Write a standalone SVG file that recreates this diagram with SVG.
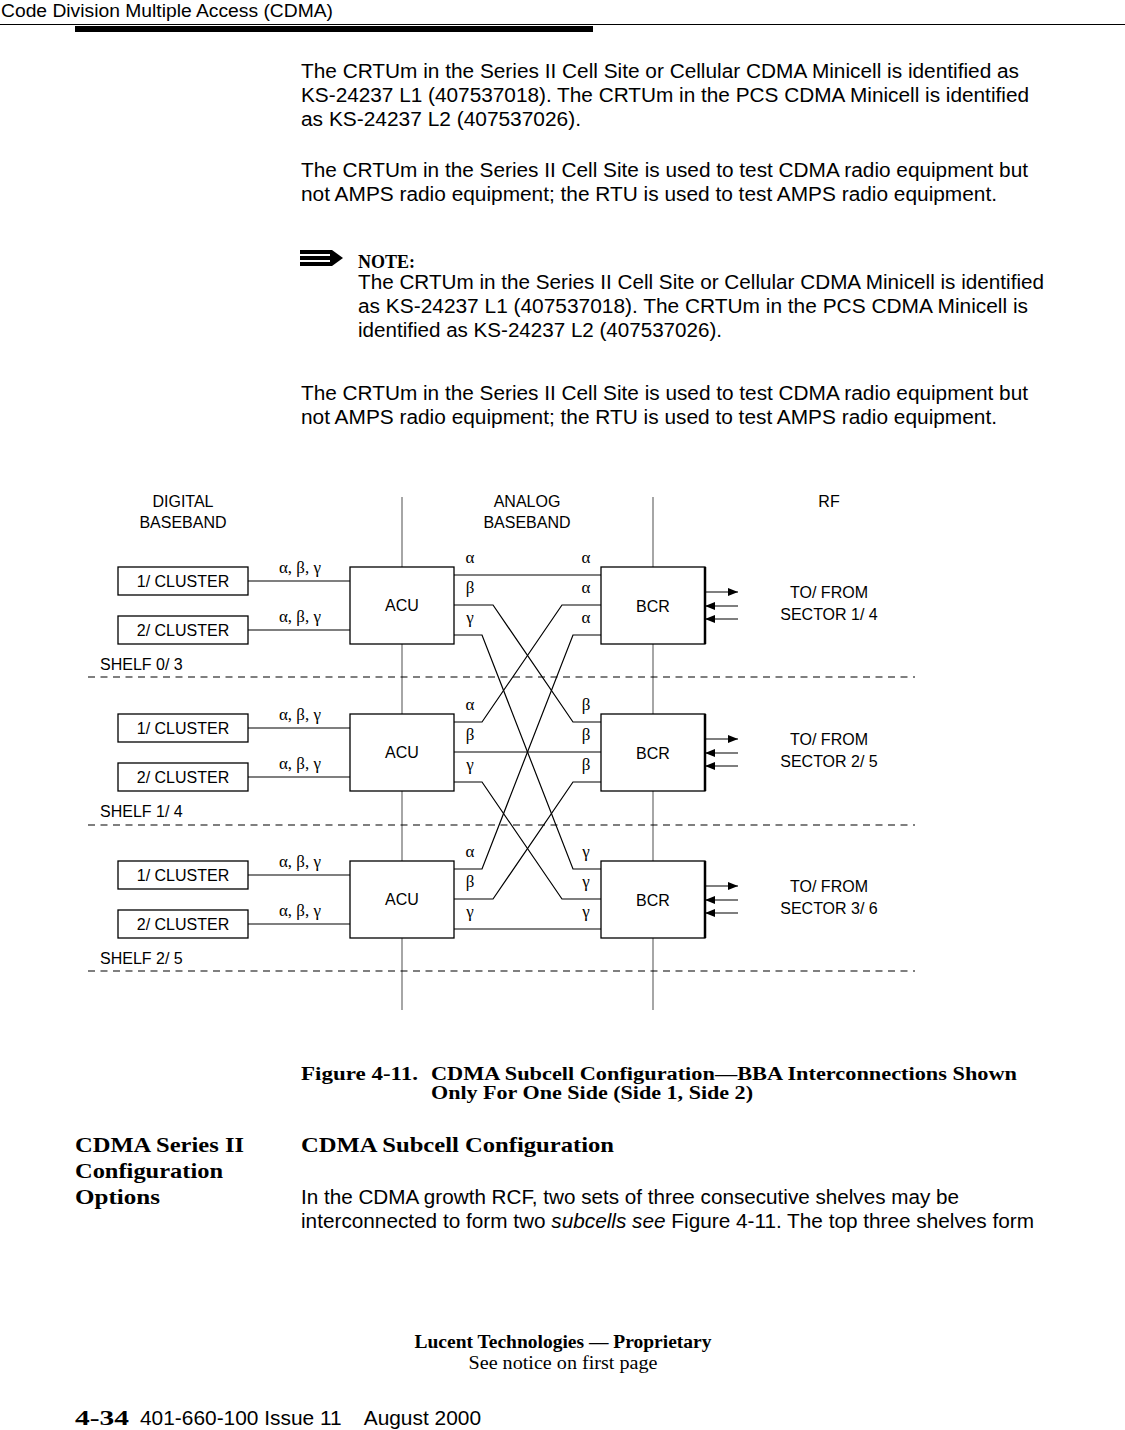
<svg xmlns="http://www.w3.org/2000/svg" width="1125" height="1430" viewBox="0 0 1125 1430">
<defs>
<style>
.sans{font-family:"Liberation Sans",Arial,sans-serif;fill:#000}
.body{font-size:20px}
.lbl{font-size:16px}
.grk{font-family:"Liberation Serif","Times New Roman",serif;font-size:17px;fill:#000}
.serif{font-family:"Liberation Serif","Times New Roman",serif;fill:#000}
.b{font-weight:bold}
.box{fill:#fff;stroke:#000;stroke-width:1.3}
.wire{fill:none;stroke:#000;stroke-width:1.2}
.dash{stroke:#000;stroke-width:1.2;stroke-dasharray:7 5.5}
.div{stroke:#888;stroke-width:1.5}
.mid{text-anchor:middle}
</style>
<marker id="ah" markerWidth="10" markerHeight="8" refX="10" refY="4" orient="auto" markerUnits="userSpaceOnUse">
<path d="M0,0 L10,4 L0,8 Z" fill="#000"/>
</marker>
</defs>
<rect width="1125" height="1430" fill="#fff"/>

<!-- header -->
<text x="1" y="17" class="sans" font-size="18" textLength="332" lengthAdjust="spacingAndGlyphs">Code Division Multiple Access (CDMA)</text>
<line x1="0" y1="24.5" x2="1125" y2="24.5" stroke="#000" stroke-width="1"/>
<rect x="75" y="26" width="518" height="6" fill="#000"/>

<!-- body text -->
<g class="sans body">
<text x="301" y="78" textLength="718" lengthAdjust="spacingAndGlyphs">The CRTUm in the Series II Cell Site or Cellular CDMA Minicell is identified as</text>
<text x="301" y="102" textLength="728" lengthAdjust="spacingAndGlyphs">KS-24237 L1 (407537018). The CRTUm in the PCS CDMA Minicell is identified</text>
<text x="301" y="126" textLength="280" lengthAdjust="spacingAndGlyphs">as KS-24237 L2 (407537026).</text>
<text x="301" y="177" textLength="727" lengthAdjust="spacingAndGlyphs">The CRTUm in the Series II Cell Site is used to test CDMA radio equipment but</text>
<text x="301" y="201" textLength="696" lengthAdjust="spacingAndGlyphs">not AMPS radio equipment; the RTU is used to test AMPS radio equipment.</text>
<text x="358" y="289" textLength="686" lengthAdjust="spacingAndGlyphs">The CRTUm in the Series II Cell Site or Cellular CDMA Minicell is identified</text>
<text x="358" y="313" textLength="670" lengthAdjust="spacingAndGlyphs">as KS-24237 L1 (407537018). The CRTUm in the PCS CDMA Minicell is</text>
<text x="358" y="337" textLength="364" lengthAdjust="spacingAndGlyphs">identified as KS-24237 L2 (407537026).</text>
<text x="301" y="400" textLength="727" lengthAdjust="spacingAndGlyphs">The CRTUm in the Series II Cell Site is used to test CDMA radio equipment but</text>
<text x="301" y="424" textLength="696" lengthAdjust="spacingAndGlyphs">not AMPS radio equipment; the RTU is used to test AMPS radio equipment.</text>
</g>

<!-- note icon -->
<g id="note-icon">
<polygon points="300,250 332,250 343,258 332,266 300,266" fill="#000"/>
<rect x="300" y="254" width="30" height="2" fill="#fff"/>
<rect x="300" y="260" width="30" height="2" fill="#fff"/>
</g>
<text x="358" y="268" class="serif b" font-size="18">NOTE:</text>

<!-- diagram headings -->
<g class="sans lbl mid">
<text x="183" y="507">DIGITAL</text>
<text x="183" y="528">BASEBAND</text>
<text x="527" y="507">ANALOG</text>
<text x="527" y="528">BASEBAND</text>
<text x="829" y="507">RF</text>
</g>

<!-- dividers -->
<g id="dividers">
<line x1="402" y1="497" x2="402" y2="1010" class="div"/>
<line x1="653" y1="497" x2="653" y2="1010" class="div"/>
<line x1="88" y1="677" x2="915" y2="677" class="dash"/>
<line x1="88" y1="825" x2="915" y2="825" class="dash"/>
<line x1="88" y1="971" x2="915" y2="971" class="dash"/>
</g>

<!-- connectors -->
<g id="connectors">
<line x1="248" y1="581" x2="350" y2="581" class="wire"/>
<line x1="248" y1="630" x2="350" y2="630" class="wire"/>
<line x1="248" y1="728" x2="350" y2="728" class="wire"/>
<line x1="248" y1="777" x2="350" y2="777" class="wire"/>
<line x1="248" y1="875" x2="350" y2="875" class="wire"/>
<line x1="248" y1="924" x2="350" y2="924" class="wire"/>
<line x1="454" y1="575" x2="601" y2="575" class="wire"/>
<line x1="454" y1="752" x2="601" y2="752" class="wire"/>
<line x1="454" y1="929" x2="601" y2="929" class="wire"/>
<polyline points="454,605 493,605 573,722 601,722" class="wire"/>
<polyline points="454,635 482,635 573,869 601,869" class="wire"/>
<polyline points="454,722 482,722 562,605 601,605" class="wire"/>
<polyline points="454,782 482,782 562,899 601,899" class="wire"/>
<polyline points="454,869 482,869 573,635 601,635" class="wire"/>
<polyline points="454,899 493,899 573,782 601,782" class="wire"/>
<line x1="705" y1="592" x2="738" y2="592" class="wire" marker-end="url(#ah)"/>
<line x1="738" y1="606" x2="705" y2="606" class="wire" marker-end="url(#ah)"/>
<line x1="738" y1="619" x2="705" y2="619" class="wire" marker-end="url(#ah)"/>
<line x1="705" y1="739" x2="738" y2="739" class="wire" marker-end="url(#ah)"/>
<line x1="738" y1="753" x2="705" y2="753" class="wire" marker-end="url(#ah)"/>
<line x1="738" y1="766" x2="705" y2="766" class="wire" marker-end="url(#ah)"/>
<line x1="705" y1="886" x2="738" y2="886" class="wire" marker-end="url(#ah)"/>
<line x1="738" y1="900" x2="705" y2="900" class="wire" marker-end="url(#ah)"/>
<line x1="738" y1="913" x2="705" y2="913" class="wire" marker-end="url(#ah)"/>
</g>

<!-- labels on connectors -->
<g class="grk mid">
<text x="300" y="573">α, β, γ</text>
<text x="300" y="622">α, β, γ</text>
<text x="300" y="720">α, β, γ</text>
<text x="300" y="769">α, β, γ</text>
<text x="300" y="867">α, β, γ</text>
<text x="300" y="916">α, β, γ</text>
<text x="470" y="563">α</text><text x="470" y="593">β</text><text x="470" y="623">γ</text>
<text x="470" y="710">α</text><text x="470" y="740">β</text><text x="470" y="770">γ</text>
<text x="470" y="857">α</text><text x="470" y="887">β</text><text x="470" y="917">γ</text>
<text x="586" y="563">α</text><text x="586" y="593">α</text><text x="586" y="623">α</text>
<text x="586" y="710">β</text><text x="586" y="740">β</text><text x="586" y="770">β</text>
<text x="586" y="857">γ</text><text x="586" y="887">γ</text><text x="586" y="917">γ</text>
</g>

<!-- shelf 0 -->
<g id="shelf0-cluster1"><rect x="118" y="567" width="130" height="28" class="box"/><text x="183" y="587" class="sans lbl mid">1/ CLUSTER</text></g>
<g id="shelf0-cluster2"><rect x="118" y="616" width="130" height="28" class="box"/><text x="183" y="636" class="sans lbl mid">2/ CLUSTER</text></g>
<g id="shelf0-acu"><rect x="350" y="567" width="104" height="77" class="box"/><text x="402" y="611" class="sans lbl mid">ACU</text></g>
<g id="shelf0-bcr"><rect x="601" y="567" width="104" height="77" class="box"/><line x1="705" y1="567" x2="705" y2="644" stroke="#000" stroke-width="2.5"/><text x="653" y="612" class="sans lbl mid">BCR</text></g>
<g id="shelf0-rf"><text x="829" y="598" class="sans lbl mid">TO/ FROM</text><text x="829" y="620" class="sans lbl mid">SECTOR 1/ 4</text></g>
<text x="100" y="670" class="sans lbl">SHELF 0/ 3</text>

<!-- shelf 1 -->
<g id="shelf1-cluster1"><rect x="118" y="714" width="130" height="28" class="box"/><text x="183" y="734" class="sans lbl mid">1/ CLUSTER</text></g>
<g id="shelf1-cluster2"><rect x="118" y="763" width="130" height="28" class="box"/><text x="183" y="783" class="sans lbl mid">2/ CLUSTER</text></g>
<g id="shelf1-acu"><rect x="350" y="714" width="104" height="77" class="box"/><text x="402" y="758" class="sans lbl mid">ACU</text></g>
<g id="shelf1-bcr"><rect x="601" y="714" width="104" height="77" class="box"/><line x1="705" y1="714" x2="705" y2="791" stroke="#000" stroke-width="2.5"/><text x="653" y="759" class="sans lbl mid">BCR</text></g>
<g id="shelf1-rf"><text x="829" y="745" class="sans lbl mid">TO/ FROM</text><text x="829" y="767" class="sans lbl mid">SECTOR 2/ 5</text></g>
<text x="100" y="817" class="sans lbl">SHELF 1/ 4</text>

<!-- shelf 2 -->
<g id="shelf2-cluster1"><rect x="118" y="861" width="130" height="28" class="box"/><text x="183" y="881" class="sans lbl mid">1/ CLUSTER</text></g>
<g id="shelf2-cluster2"><rect x="118" y="910" width="130" height="28" class="box"/><text x="183" y="930" class="sans lbl mid">2/ CLUSTER</text></g>
<g id="shelf2-acu"><rect x="350" y="861" width="104" height="77" class="box"/><text x="402" y="905" class="sans lbl mid">ACU</text></g>
<g id="shelf2-bcr"><rect x="601" y="861" width="104" height="77" class="box"/><line x1="705" y1="861" x2="705" y2="938" stroke="#000" stroke-width="2.5"/><text x="653" y="906" class="sans lbl mid">BCR</text></g>
<g id="shelf2-rf"><text x="829" y="892" class="sans lbl mid">TO/ FROM</text><text x="829" y="914" class="sans lbl mid">SECTOR 3/ 6</text></g>
<text x="100" y="964" class="sans lbl">SHELF 2/ 5</text>

<!-- caption -->
<g class="serif b" font-size="18">
<text x="301" y="1080" textLength="117" lengthAdjust="spacingAndGlyphs">Figure 4-11.</text>
<text x="431" y="1080" textLength="586" lengthAdjust="spacingAndGlyphs">CDMA Subcell Configuration—BBA Interconnections Shown</text>
<text x="431" y="1099" textLength="322" lengthAdjust="spacingAndGlyphs">Only For One Side (Side 1, Side 2)</text>
</g>

<!-- section -->
<g class="serif b" font-size="21">
<text x="75" y="1152" textLength="169" lengthAdjust="spacingAndGlyphs">CDMA Series II</text>
<text x="75" y="1178" textLength="148" lengthAdjust="spacingAndGlyphs">Configuration</text>
<text x="75" y="1204" textLength="85" lengthAdjust="spacingAndGlyphs">Options</text>
<text x="301" y="1152" textLength="313" lengthAdjust="spacingAndGlyphs">CDMA Subcell Configuration</text>
</g>
<g class="sans body">
<text x="301" y="1204" textLength="658" lengthAdjust="spacingAndGlyphs">In the CDMA growth RCF, two sets of three consecutive shelves may be</text>
<text x="301" y="1228" textLength="733" lengthAdjust="spacingAndGlyphs">interconnected to form two <tspan font-style="italic">subcells see</tspan> Figure 4-11. The top three shelves form</text>
</g>

<!-- footer -->
<text x="563" y="1348" class="serif b mid" font-size="18" textLength="297" lengthAdjust="spacingAndGlyphs">Lucent Technologies — Proprietary</text>
<text x="563" y="1369" class="serif mid" font-size="18" textLength="189" lengthAdjust="spacingAndGlyphs">See notice on first page</text>
<text x="75" y="1425" class="serif b" font-size="21" textLength="54" lengthAdjust="spacingAndGlyphs">4-34</text>
<text x="140" y="1425" class="sans body" xml:space="preserve" textLength="341" lengthAdjust="spacingAndGlyphs">401-660-100 Issue 11    August 2000</text>
</svg>
